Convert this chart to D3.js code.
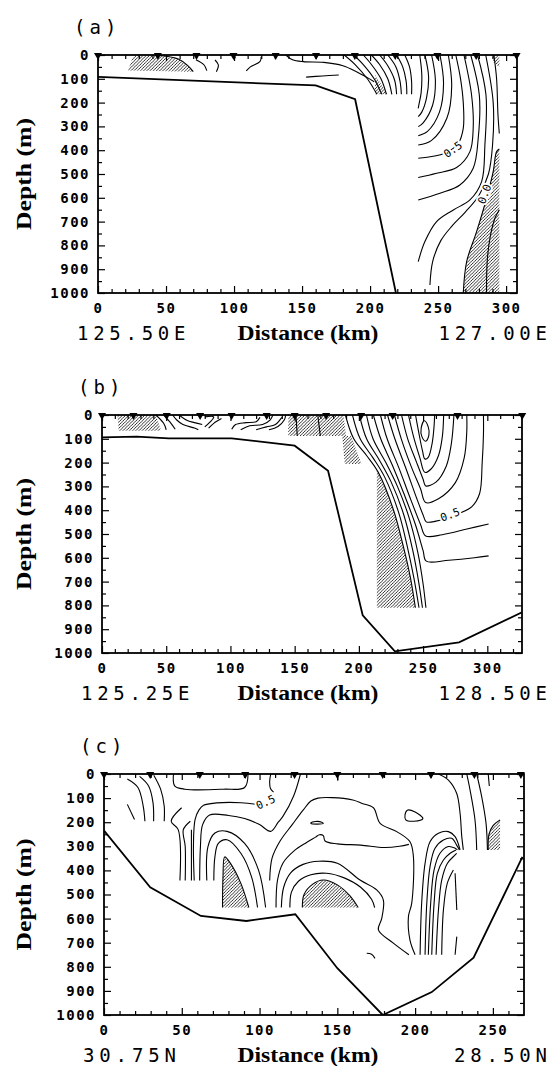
<!DOCTYPE html>
<html>
<head>
<meta charset="utf-8">
<script src="https://cdn.jsdelivr.net/npm/d3@7"></script>
<style>
body { margin: 0; background: #fff; }
.tick text { font-family: "DejaVu Sans Mono", monospace; font-size: 14px; font-weight: bold; letter-spacing: 1.5px; fill: #000; }
.coord { font-family: "DejaVu Sans Mono", monospace; font-size: 19px; }
.title { font-family: "DejaVu Sans Mono", monospace; font-size: 19px; letter-spacing: 4px; }
.axlab { font-family: "Liberation Serif", serif; font-size: 20px; font-weight: bold; }
.clab { font-family: "DejaVu Sans Mono", monospace; font-size: 11px; }
</style>
</head>
<body>
<svg id="fig" width="551" height="1066"></svg>
<script>
// depth ticks (m) and distance ticks (km)
var depthTicks = [0, 100, 200, 300, 400, 500, 600, 700, 800, 900, 1000];
var depthMinor = [50, 150, 250, 350, 450, 550, 650, 750, 850, 950];
var distTicks = [0, 50, 100, 150, 200, 250, 300];

// ---- panel (a) ----
var stationsA = [0, 44, 72.4, 99.6, 130.6, 160.3, 188.8, 218.5, 249.5, 278, 307.7];
var bottomA = [[0, 92], [160, 128], [189, 186], [219, 1000]];
var hatchA = [
  [[22, 65], [26, 5], [43, 0], [59, 17], [66, 45], [70, 70]],
  [[203.6, 84], [203.6, 165], [213, 165]],
  [[268.5, 1000], [271, 868], [278.3, 742], [285.6, 602], [290.5, 490], [293, 406], [295, 395], [295, 1000]],
  [[289, 0], [295, 0], [295, 50], [291, 35]]
];
var linesA = [
  [[43, 0], [59, 17], [66, 45], [70, 70]],
  [[72, 20], [78, 42], [80, 66]],
  [[86, 21], [88.5, 42], [87, 70]],
  [[100, 0], [101, 14]],
  [[120, 7], [119, 28], [112, 50], [109, 67]],
  [[138, 0], [143, 20], [151, 28], [166, 31], [180, 45], [190, 70], [198, 95], [203, 112]],
  [[153, 93], [165, 88], [177, 84]],
  [[181, 0], [189, 40], [198, 100], [205, 165]],
  [[188, 0], [195, 40], [203, 100], [208.5, 165]],
  [[195, 0], [201, 40], [208, 100], [212, 165]],
  [[201, 0], [207, 40], [213, 100], [216, 165]],
  [[207, 0], [213, 45], [218, 105], [219.5, 165]],
  [[213, 0], [219, 50], [222, 110], [223, 165]],
  [[219.5, 0], [224, 50], [226.5, 110], [227, 165]],
  [[225.5, 0], [229, 50], [230.5, 110], [230.5, 165]],
  [[236.5, 0], [238, 80], [237.5, 160], [236, 205], [235.4, 224]],
  [[240.3, 0], [243, 90], [241.5, 180], [238, 240], [235.4, 259]],
  [[245.2, 0], [248, 105], [246, 210], [239, 285], [235.4, 301]],
  [[251.4, 0], [254, 120], [251, 240], [242, 322], [235.4, 339]],
  [[257.5, 0], [260, 130], [256.5, 265], [245, 360], [235.4, 378]],
  [[263, 0], [266.5, 100], [268.5, 200], [268.5, 308], [264.8, 371], [255, 413], [235.4, 434]],
  [[269, 0], [274.6, 168], [275.8, 308], [273.4, 406], [263.6, 473], [248.9, 497], [235.4, 515]],
  [[274, 0], [280.3, 168], [279.5, 350], [275.8, 476], [266, 546], [251.4, 581], [235.4, 609]],
  [[279, 0], [285.2, 168], [284.4, 378], [282, 532], [273.4, 609], [261.2, 651], [248.9, 700], [240.3, 784], [235.4, 868]],
  [[285, 0], [290.5, 200], [290, 380], [287, 500], [280, 590], [270, 660], [260, 720], [252, 780], [246, 868], [244, 966]],
  [[291, 0], [293, 100], [294, 250], [295, 330]],
  [[268.5, 1000], [271, 868], [278.3, 742], [285.6, 602], [290.5, 490], [293, 406], [295, 395]],
  [[285.6, 1000], [286.1, 868], [288.1, 770], [291.8, 686], [295, 650]]
];
var loopsA = [];
var labelsA = [{ t: "0.5", km: 261, m: 398, r: -35 }, { t: "0.0", km: 284.3, m: 585, r: -70 }];

// ---- panel (b) ----
var stationsB = [0, 24.5, 50.4, 76.4, 100.9, 128.2, 150, 174.5, 201.8, 226.3, 276.8, 327.2];
var bottomB = [[0, 94], [27, 91], [52, 98], [101, 98], [150, 129], [176, 234], [203, 842], [228, 993], [278, 955], [327, 829]];
var hatchB = [
  [[12, 0], [42, 0], [46, 66], [13, 66]],
  [[145, 0], [188, 0], [190, 88], [145, 88]],
  [[187, 88], [194, 88], [202, 206], [189, 206]],
  [[214, 234], [214, 810], [244, 810], [240, 680], [234.5, 550], [227, 400], [215, 240]]
];
var linesB = [
  [[42, 0], [48, 35], [50, 62]],
  [[48, 0], [53, 30], [57, 60]],
  [[55, 0], [58, 20], [63, 40], [72, 55], [75, 62]],
  [[60, 0], [66, 22], [72, 32], [78, 40]],
  [[80, 8], [87, 8], [84, 30], [80, 50]],
  [[93, 15], [87, 35], [83, 55]],
  [[101, 60], [104, 40], [112, 32], [120, 28], [123, 10]],
  [[108, 62], [115, 45], [125, 40], [131, 20], [133, 0]],
  [[120, 62], [128, 50], [135, 40], [140, 10]],
  [[130, 62], [137, 48], [142, 20], [143, 0]],
  [[151, 0], [152, 88]],
  [[168, 0], [170, 88]],
  [[244.1, 0], [246.5, 70], [249.5, 150], [251.4, 185], [254, 178], [257, 120], [258.5, 50], [259, 0]],
  [[238.6, 0], [242.5, 90], [247.5, 180], [251.4, 241], [256, 228], [262, 170], [265, 90], [266, 0]],
  [[233.2, 0], [238, 100], [245, 200], [250, 270], [252, 298], [260, 282], [268, 215], [272, 120], [274, 0]],
  [[227.7, 0], [233, 100], [241, 220], [248, 310], [252, 368], [262, 352], [275, 285], [282, 180], [284, 70], [284, 0]],
  [[222.3, 0], [228, 100], [237, 230], [245, 350], [250, 420], [252.5, 449], [260, 446], [275, 420], [288, 385], [294, 330], [296, 200], [297, 80], [297, 0]],
  [[216.8, 0], [222, 100], [231, 220], [240, 350], [248, 460], [252, 508], [265, 503], [285, 478], [301, 458]],
  [[211.3, 0], [217, 100], [226, 210], [235, 330], [244, 460], [250, 570], [252.5, 614], [270, 610], [290, 600], [301, 592]],
  [[205.9, 0], [211, 100], [221, 200], [230, 300], [239, 430], [246, 580], [250, 710], [252.2, 810]],
  [[200.4, 0], [206, 100], [216, 190], [225, 280], [235, 420], [242, 570], [246.5, 700], [249.5, 810]],
  [[195, 0], [201, 100], [211, 180], [220, 260], [231, 410], [238, 560], [243, 690], [246.8, 810]],
  [[189.5, 0], [196, 100], [206, 170], [215, 240], [227, 400], [234.5, 550], [240, 680], [244, 810]]
];
var loopsB = [[[251, 24], [254, 50], [254.5, 85], [252, 110], [249, 90], [248.5, 55]]];
var labelsB = [{ t: "0.5", km: 271, m: 420, r: -20 }];

// ---- panel (c) ----
var stationsC = [0, 29.7, 61.6, 90.8, 122.5, 150, 179.2, 210.2, 238.1, 268];
var bottomC = [[0, 235], [29.7, 470], [62.3, 589], [91.5, 610], [123, 582], [150, 806], [179.2, 1000], [210.7, 905], [237.6, 762], [269, 344]];
var hatchC = [
  [[76.2, 554], [76.5, 428], [77.6, 344], [81.4, 372], [88.1, 456], [93.1, 554]],
  [[127.5, 554], [128.6, 500], [134, 458], [141, 440], [150, 460], [158, 505], [163.4, 554]],
  [[247, 315], [247.5, 250], [250, 215], [254.6, 191], [254.6, 315]]
];
var linesC = [
  [[15, 126], [19.6, 189]],
  [[15, 21], [21.8, 56], [25.2, 133], [26.3, 196]],
  [[22.9, 10], [28.6, 49], [31.5, 119], [31.9, 196]],
  [[32, 5], [36.4, 63], [38.7, 133], [38.7, 196]],
  [[44.7, 0], [45.4, 49], [52, 63], [76.9, 63], [90.4, 56], [92.6, 0]],
  [[49.9, 140], [43.2, 196], [47.7, 231], [48.8, 442]],
  [[55.5, 196], [51, 231], [52.2, 300], [52.2, 442]],
  [[56.2, 231], [56.2, 442]],
  [[58, 442], [57.5, 300], [58.5, 190], [61, 150], [64, 130], [72.4, 120], [88.1, 119], [98.2, 126]],
  [[107.2, 0], [106.5, 30], [107, 60], [109, 75]],
  [[76.2, 554], [76.5, 428], [77.6, 344], [81.4, 372], [88.1, 456], [93.1, 554]],
  [[70.6, 442], [71.3, 344], [73.5, 288], [79.1, 273], [88.1, 330], [94.9, 428], [98.7, 554]],
  [[66.1, 442], [66.8, 302], [71.3, 245], [79.1, 238], [90.4, 288], [99.4, 400], [103.9, 554]],
  [[61.5, 442], [62, 300], [63.4, 210], [67.9, 170], [80, 172], [90.4, 185], [100, 210], [107.2, 238], [112, 200], [115.1, 175], [121.9, 91], [126.3, 0]],
  [[106.5, 442], [108, 350], [113, 280], [121, 210], [128, 150], [133, 112], [137.6, 100], [146.6, 98], [160, 108], [166, 122], [173.2, 140], [177.5, 205], [188.2, 239], [196.7, 281], [198.9, 343], [197.8, 537], [195.7, 592], [196.7, 689], [200, 750]],
  [[110.6, 554], [111.5, 442], [115, 370], [122, 320], [130, 285], [136, 262], [138.5, 252], [141, 256], [142.1, 278], [150, 290], [165, 295], [180, 305], [190, 300], [196, 292]],
  [[114, 554], [115.5, 470], [120, 410], [128, 375], [138, 362], [150, 370], [164.6, 440], [175.3, 481], [179.6, 523], [178.5, 600], [176.4, 647], [186, 702], [196, 750]],
  [[119.5, 554], [120.5, 490], [125, 445], [133, 418], [143, 412], [154, 430], [165, 470], [172, 520], [174, 554]],
  [[127.5, 554], [128.6, 500], [134, 458], [141, 440], [150, 460], [158, 505], [163.4, 554]],
  [[168.9, 744], [172, 748], [174.2, 765]],
  [[150, 0], [150.3, 28]],
  [[203.2, 750], [204.2, 537], [206.4, 371], [209.6, 281], [215, 246], [221.4, 239], [225.7, 260], [228.9, 315]],
  [[206.4, 750], [207.5, 537], [209.6, 384], [212.8, 308], [218.2, 274], [223.5, 267], [226.7, 295], [228.5, 315]],
  [[208.5, 750], [210, 537], [212.2, 398], [216, 329], [221.4, 301], [225.7, 308], [227.2, 315]],
  [[210.7, 750], [212.2, 537], [214.3, 412], [218.2, 357], [222.5, 329], [226.3, 315]],
  [[213.5, 750], [215, 564], [217.1, 440], [220.7, 371], [225.7, 336], [226.7, 329]],
  [[217.1, 750], [218.2, 564], [220.7, 453], [224.6, 398]],
  [[225.7, 412], [226.8, 564]],
  [[226.8, 675], [225.7, 750]],
  [[215, 0], [221.4, 25], [226.7, 80], [228.9, 163], [230, 260], [231, 315]],
  [[233.2, 0], [235.3, 66], [238.5, 191], [239.6, 315]],
  [[239.6, 0], [242.8, 94], [245.6, 205], [246.5, 315]],
  [[247, 0], [247.7, 50]],
  [[247, 315], [247.5, 250], [250, 215], [254.6, 191]]
];
var loopsC = [
  [[133, 203], [136, 197], [140, 200], [141, 205], [137, 208], [133, 205]],
  [[193.5, 170], [195, 150], [200, 158], [205, 185], [199, 196], [194, 190]]
];
var labelsC = [{ t: "0.5", km: 104, m: 118, r: -25 }];

// page layout (pixels)
var layout = [
  { id: "a", left: 98, right: 517, top: 55, bottom: 293, kmMax: 308, west: "125.50E", east: "127.00E",
    stations: stationsA, bottomLine: bottomA, hatch: hatchA, lines: linesA, loops: loopsA, labels: labelsA },
  { id: "b", left: 102, right: 522, top: 415, bottom: 653, kmMax: 327, west: "125.25E", east: "128.50E",
    stations: stationsB, bottomLine: bottomB, hatch: hatchB, lines: linesB, loops: loopsB, labels: labelsB },
  { id: "c", left: 104, right: 524, top: 774, bottom: 1015, kmMax: 270, west: "30.75N", east: "28.50N",
    stations: stationsC, bottomLine: bottomC, hatch: hatchC, lines: linesC, loops: loopsC, labels: labelsC }
];

var svg = d3.select("#fig");
var defs = svg.append("defs");
defs.append("pattern").attr("id", "hatch").attr("patternUnits", "userSpaceOnUse")
  .attr("width", 3.2).attr("height", 3.2)
  .append("path").attr("d", "M-1,1 L1,-1 M0,3.2 L3.2,0 M2.2,4.2 L4.2,2.2")
  .attr("stroke", "#000").attr("stroke-width", 0.8);

layout.forEach(function(p) {
  var x = d3.scaleLinear().domain([0, p.kmMax]).range([p.left, p.right]);
  var y = d3.scaleLinear().domain([0, 1000]).range([p.top, p.bottom]);
  var g = svg.append("g");

  defs.append("clipPath").attr("id", "clip" + p.id).append("rect")
    .attr("x", p.left).attr("y", p.top).attr("width", p.right - p.left).attr("height", p.bottom - p.top);
  var plot = g.append("g").attr("clip-path", "url(#clip" + p.id + ")");

  var smooth = d3.line().x(function(d) { return x(d[0]); }).y(function(d) { return y(d[1]); })
    .curve(d3.curveCatmullRom.alpha(0.5));
  var closedSmooth = d3.line().x(function(d) { return x(d[0]); }).y(function(d) { return y(d[1]); })
    .curve(d3.curveCatmullRomClosed.alpha(0.5));
  var straight = d3.line().x(function(d) { return x(d[0]); }).y(function(d) { return y(d[1]); });

  // hatched areas
  plot.selectAll(".hatch").data(p.hatch).enter().append("path")
    .attr("d", function(d) { return straight(d) + "Z"; })
    .attr("fill", "url(#hatch)");

  // contour lines
  plot.selectAll(".cont").data(p.lines).enter().append("path")
    .attr("d", smooth).attr("fill", "none").attr("stroke", "#000").attr("stroke-width", 1.1);
  plot.selectAll(".loop").data(p.loops).enter().append("path")
    .attr("d", closedSmooth).attr("fill", "none").attr("stroke", "#000").attr("stroke-width", 1.1);

  // contour labels
  plot.selectAll(".clab").data(p.labels).enter().append("text")
    .attr("class", "clab")
    .attr("transform", function(d) { return "translate(" + x(d.km) + "," + y(d.m) + ") rotate(" + d.r + ")"; })
    .attr("text-anchor", "middle").attr("dominant-baseline", "central")
    .attr("stroke", "#fff").attr("stroke-width", 4).attr("paint-order", "stroke")
    .text(function(d) { return d.t; });

  // bottom topography
  plot.append("path").datum(p.bottomLine).attr("d", straight)
    .attr("fill", "none").attr("stroke", "#000").attr("stroke-width", 1.8);

  // axes with inward ticks
  var lastTick = distTicks.filter(function(v) { return v <= p.kmMax; });
  var minorKm = d3.range(10, p.kmMax, 10).filter(function(v) { return v % 50 !== 0; });

  g.append("g").attr("transform", "translate(" + p.left + ",0)")
    .call(d3.axisLeft(y).tickValues(depthTicks).tickSize(-7).tickPadding(8).tickFormat(d3.format("d")));
  g.append("g").attr("transform", "translate(" + p.left + ",0)")
    .call(d3.axisLeft(y).tickValues(depthMinor).tickSize(-4).tickFormat(""));
  g.append("g").attr("transform", "translate(" + p.right + ",0)")
    .call(d3.axisRight(y).tickValues(depthTicks).tickSize(-7).tickFormat(""));
  g.append("g").attr("transform", "translate(" + p.right + ",0)")
    .call(d3.axisRight(y).tickValues(depthMinor).tickSize(-4).tickFormat(""));
  g.append("g").attr("transform", "translate(0," + p.bottom + ")")
    .call(d3.axisBottom(x).tickValues(lastTick).tickSize(-7).tickPadding(10).tickFormat(d3.format("d")));
  g.append("g").attr("transform", "translate(0," + p.bottom + ")")
    .call(d3.axisBottom(x).tickValues(minorKm).tickSize(-4).tickFormat(""));
  g.append("g").attr("transform", "translate(0," + p.top + ")")
    .call(d3.axisTop(x).tickValues(lastTick).tickSize(-6).tickFormat(""));
  g.append("g").attr("transform", "translate(0," + p.top + ")")
    .call(d3.axisTop(x).tickValues(minorKm).tickSize(-4).tickFormat(""));
  g.selectAll(".domain").remove();
  g.selectAll(".tick line").attr("stroke", "#000").attr("stroke-width", 1.2);

  // frame
  g.append("rect").attr("x", p.left).attr("y", p.top)
    .attr("width", p.right - p.left).attr("height", p.bottom - p.top)
    .attr("fill", "none").attr("stroke", "#000").attr("stroke-width", 1.8);

  // stations
  g.selectAll(".stn").data(p.stations).enter().append("path")
    .attr("d", function(d) { var cx = x(d); return "M" + (cx - 4) + "," + (p.top - 2) + "L" + (cx + 4) + "," + (p.top - 2) + "L" + cx + "," + (p.top + 5) + "Z"; })
    .attr("fill", "#000");

  // texts
  g.append("text").attr("class", "title").attr("x", p.left - 24).attr("y", p.top - 28)
    .attr("dominant-baseline", "central").text("(" + p.id + ")");
  g.append("text").attr("class", "axlab")
    .attr("transform", "translate(24," + ((p.top + p.bottom) / 2) + ") rotate(-90)")
    .attr("text-anchor", "middle").attr("dominant-baseline", "central")
    .attr("textLength", 112).attr("lengthAdjust", "spacingAndGlyphs").text("Depth (m)");
  g.append("text").attr("class", "axlab").attr("x", 308).attr("y", p.bottom + 40)
    .attr("text-anchor", "middle").attr("dominant-baseline", "central")
    .attr("textLength", 141).attr("lengthAdjust", "spacingAndGlyphs").text("Distance (km)");
  g.append("text").attr("class", "coord").attr("x", p.left - 21).attr("y", p.bottom + 40)
    .attr("dominant-baseline", "central")
    .attr("textLength", p.west.length * 15.5).attr("lengthAdjust", "spacing").text(p.west);
  g.append("text").attr("class", "coord").attr("x", 547 - p.east.length * 15.5).attr("y", p.bottom + 40)
    .attr("dominant-baseline", "central")
    .attr("textLength", p.east.length * 15.5).attr("lengthAdjust", "spacing").text(p.east);
});
</script>
</body>
</html>
